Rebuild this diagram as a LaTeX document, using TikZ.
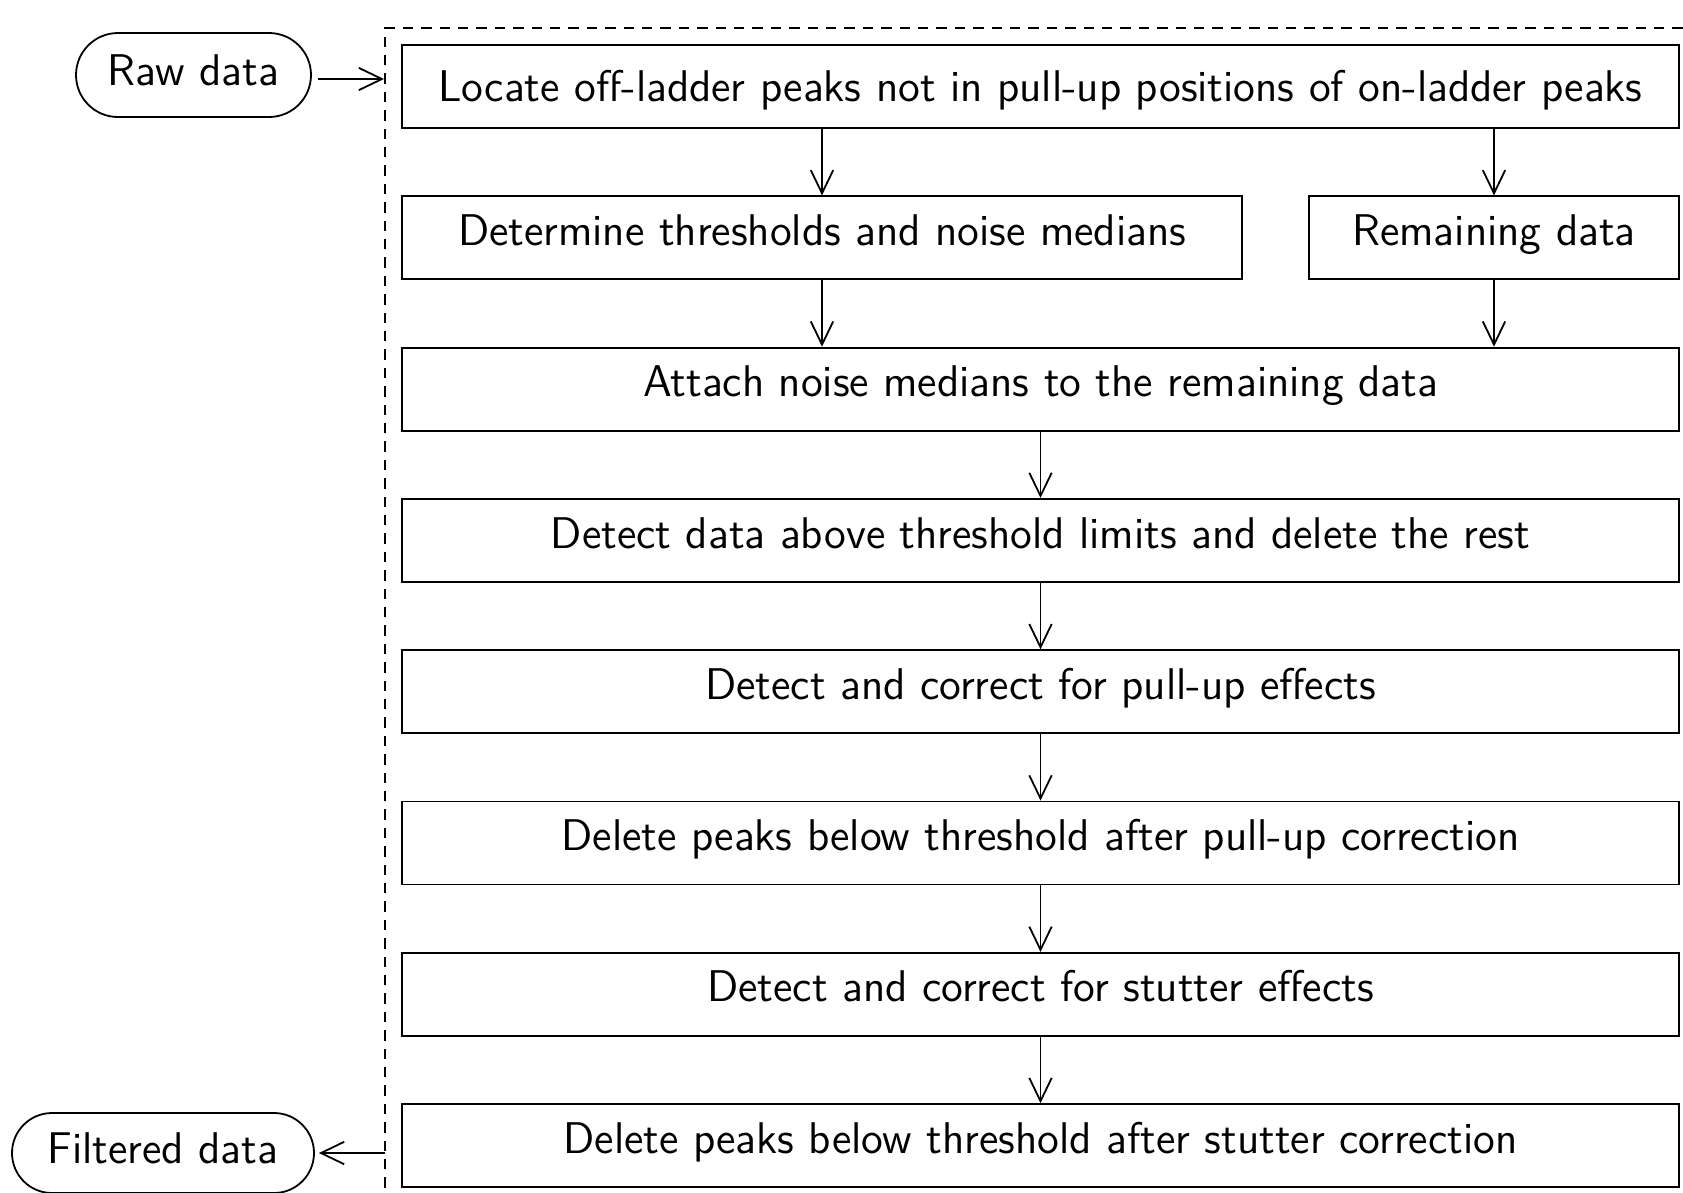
\documentclass[tikz,border=0pt]{standalone}
\usetikzlibrary{arrows.meta,shapes.misc}
\begin{document}
\begin{tikzpicture}[x=0.25pt,y=-0.25pt,
  font=\sffamily\fontsize{11.1}{14}\selectfont,
  line width=0.45pt,
  stepbox/.style={draw, rectangle, minimum height=20.75pt, inner sep=0pt,
    text height=8pt, text depth=4.2pt},
  terminal/.style={draw, rounded rectangle, minimum height=21pt, inner sep=0pt,
    text height=8pt, text depth=3pt},
  flow/.style={-{Straight Barb[length=5.8pt,width=5.6pt]}},
  group/.style={draw, dash pattern=on 2.6pt off 2pt, line width=0.4pt}]
\useasboundingbox (0,0) rectangle (1683,1192);
\clip (0,0) rectangle (1683,1192);

% dashed frame around the processing steps
\draw[group] (1800,1300) -- (385,1300) -- (385,28) -- (1800,28);

% terminals
\node[terminal, minimum width=58.75pt] (raw) at (193.5,75) {Raw data};
\node[terminal, minimum width=75.5pt, minimum height=20pt] (filt) at (163,1153) {Filtered data};

% processing steps
\node[stepbox, minimum width=319.25pt, text depth=0.75pt] (s1) at (1040.5,86.5) {Locate off-ladder peaks not in pull-up positions of on-ladder peaks};
\node[stepbox, minimum width=210pt] (s2a) at (822,237.8) {Determine thresholds and noise medians};
\node[stepbox, minimum width=92.5pt] (s2b) at (1494,237.8) {Remaining data};
\node[stepbox, minimum width=319.25pt] (s3) at (1040.5,389.1) {Attach noise medians to the remaining data};
\node[stepbox, minimum width=319.25pt] (s4) at (1040.5,540.4) {Detect data above threshold limits and delete the rest};
\node[stepbox, minimum width=319.25pt] (s5) at (1040.5,691.7) {Detect and correct for pull-up effects};
\node[stepbox, minimum width=319.25pt] (s6) at (1040.5,843) {Delete peaks below threshold after pull-up correction};
\node[stepbox, minimum width=319.25pt] (s7) at (1040.5,994.3) {Detect and correct for stutter effects};
\node[stepbox, minimum width=319.25pt] (s8) at (1040.5,1145.6) {Delete peaks below threshold after stutter correction};

% frame entry and exit points
\coordinate (in) at (384,79);
\coordinate (out) at (385,1153);

% connectors
\draw[flow] ([xshift=1.5pt]raw.east |- in) -- (in);
\draw[flow] (out) -- ([xshift=1pt]filt.east);
\draw[flow] (s2a.north |- s1.south) -- (s2a.north);
\draw[flow] (s2b.north |- s1.south) -- (s2b.north);
\draw[flow] (s2a.south) -- (s2a.south |- s3.north);
\draw[flow] (s2b.south) -- (s2b.south |- s3.north);
\draw[flow] (s3) -- (s4);
\draw[flow] (s4) -- (s5);
\draw[flow] (s5) -- (s6);
\draw[flow] (s6) -- (s7);
\draw[flow] (s7) -- (s8);
\end{tikzpicture}
\end{document}
